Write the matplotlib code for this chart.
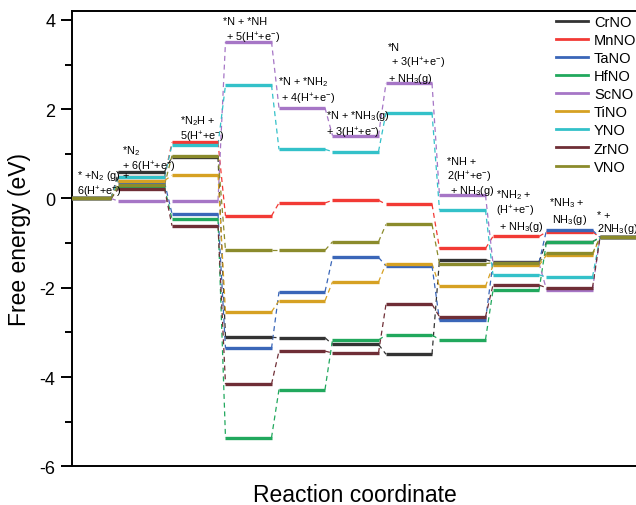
import matplotlib
matplotlib.use("Agg")
import matplotlib.pyplot as plt
from matplotlib.lines import Line2D
from matplotlib.ticker import MultipleLocator

plt.rcParams['font.family'] = ['Liberation Sans', 'DejaVu Sans']
plt.rcParams['mathtext.fontset'] = 'custom'
plt.rcParams['mathtext.rm'] = 'Liberation Sans'
plt.rcParams['mathtext.it'] = 'Liberation Sans:italic'
plt.rcParams['mathtext.bf'] = 'Liberation Sans:bold'

# ---- data ----
series_names = ["CrNO", "MnNO", "TaNO", "HfNO", "ScNO", "TiNO", "YNO", "ZrNO", "VNO"]
CrNO = [0, 0.60, 0.93, -3.11, -3.12, -3.27, -3.49, -1.37, -1.42, -0.97, -0.87]
MnNO = [0, 0.48, 1.26, -0.39, -0.10, -0.04, -0.13, -1.12, -0.85, -0.75, -0.87]
TaNO = [0, 0.36, -0.34, -3.36, -2.09, -1.32, -1.51, -2.73, -1.44, -0.71, -0.87]
HfNO = [0, 0.25, -0.46, -5.36, -4.28, -3.17, -3.06, -3.16, -2.06, -0.97, -0.87]
ScNO = [0, -0.06, -0.05, 3.51, 2.03, 1.41, 2.58, 0.07, -1.45, -2.04, -0.87]
TiNO = [0, 0.40, 0.52, -2.54, -2.29, -1.87, -1.46, -1.97, -1.50, -1.27, -0.87]
YNO = [0, 0.48, 1.20, 2.54, 1.10, 1.05, 1.92, -0.26, -1.71, -1.76, -0.87]
ZrNO = [0, 0.22, -0.61, -4.16, -3.42, -3.46, -2.37, -2.65, -1.94, -2.00, -0.87]
VNO = [0, 0.30, 0.96, -1.16, -1.16, -0.97, -0.58, -1.46, -1.44, -1.23, -0.87]
series_values = [CrNO, MnNO, TaNO, HfNO, ScNO, TiNO, YNO, ZrNO, VNO]

step_labels = [
    ["* +N$_2$ (g) +", "6(H$^{+}$+e$^{-}$)"],
    ["*N$_2$", "+ 6(H$^{+}$+e$^{-}$)"],
    ["*N$_2$H +", "5(H$^{+}$+e$^{-}$)"],
    ["*N + *NH", " + 5(H$^{+}$+e$^{-}$)"],
    ["*N + *NH$_2$", " + 4(H$^{+}$+e$^{-}$)"],
    ["*N + *NH$_3$(g)", "+ 3(H$^{+}$+e$^{-}$)"],
    ["*N", " + 3(H$^{+}$+e$^{-}$)", "+ NH$_3$(g)"],
    ["*NH +", "2(H$^{+}$+e$^{-}$)", " + NH$_3$(g)"],
    ["*NH$_2$ +", "(H$^{+}$+e$^{-}$)", " + NH$_3$(g)"],
    ["*NH$_3$ +", " NH$_3$(g)"],
    ["* +", "2NH$_3$(g)"],
]

# ---- styles / positions ----
colors = ["#333333", "#f23a35", "#3a66b8", "#21a85d", "#a676c6",
          "#d6a123", "#33c1c9", "#6f2e36", "#8b8b2c"]
label_pos = [  # (x, [y per line]) in data coords, left aligned
    (-0.21, [0.52, 0.16]),
    (0.636, [1.08, 0.72]),
    (1.72, [1.75, 1.39]),
    (2.52, [3.97, 3.61]),
    (3.55, [2.63, 2.24]),
    (4.45, [1.86, 1.48]),
    (5.61, [3.40, 3.04, 2.70]),
    (6.71, [0.83, 0.49, 0.18]),
    (7.63, [0.09, -0.27, -0.61]),
    (8.62, [-0.07, -0.45]),
    (9.51, [-0.38, -0.67]),
]
half = 0.43

fig = plt.figure(figsize=(6.36, 5.06), dpi=100)
ax_left = 72 / 636
ax_bottom = (506 - 467.3) / 506
ax_w = 604 / 636
ax_h = (467.3 - 12) / 506
ax = fig.add_axes([ax_left, ax_bottom, ax_w, ax_h])

for vals, col in zip(series_values, colors):
    n = len(vals)
    for i in range(n):
        ax.plot([i - half, i + half], [vals[i], vals[i]], color=col, lw=2.4,
                solid_capstyle='butt', zorder=3)
        if i < n - 1:
            ax.plot([i + half, i + 1 - half], [vals[i], vals[i + 1]], color=col,
                    lw=0.9, ls=(0, (4, 3)), zorder=2)

for (x, ys), lines in zip(label_pos, step_labels):
    for y, t in zip(ys, lines):
        ax.text(x, y, t, fontsize=7.8, ha='left', va='center', zorder=5)

ax.set_xlim(-0.299, -0.299 + 604 / 53.5)
ax.set_ylim(-6, 4.2)
ax.yaxis.set_major_locator(MultipleLocator(2))
ax.yaxis.set_minor_locator(MultipleLocator(1))
ax.set_xticks([])
ax.tick_params(axis='y', which='major', direction='out', length=8, width=1.4,
               labelsize=13, pad=4)
ax.tick_params(axis='y', which='minor', direction='out', length=5, width=1.4)
for s in ax.spines.values():
    s.set_linewidth(1.4)
ax.set_yticklabels([f"{int(v)}" for v in ax.get_yticks()])
ax.set_ylabel("Free energy (eV)", fontsize=16.5, labelpad=6)
ax.set_xlabel("Reaction coordinate", fontsize=16.5)
ax.xaxis.set_label_coords(((250 + 460) / 2 - 72) / 604, -17 / 455.3)
ax.xaxis.label.set_verticalalignment('top')

handles = [Line2D([], [], color=c, lw=2) for c in colors]
ax.legend(handles, series_names, loc='upper left',
          bbox_to_anchor=(556 / 636, (506 - 16) / 506),
          bbox_transform=fig.transFigure, frameon=False, borderpad=0,
          borderaxespad=0, handlelength=2.2, handletextpad=0.4,
          labelspacing=0.28, fontsize=10.5)

fig.savefig("out.png", dpi=100)
